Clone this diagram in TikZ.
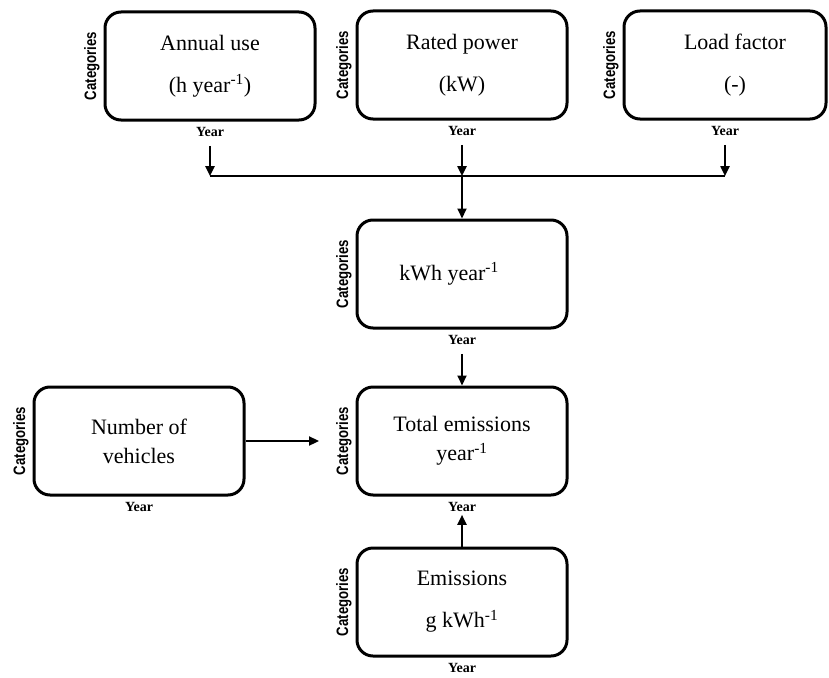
\documentclass[tikz,border=0pt]{standalone}
\usepackage{fontspec}
\setmainfont{Liberation Serif}
\newfontfamily\catfont[FakeStretch=0.8]{Liberation Sans}
\usetikzlibrary{positioning}
\usetikzlibrary{arrows.meta}

\begin{document}
\begin{tikzpicture}
[x=1pt,y=-1pt,>={Stealth[length=10pt,width=9pt,inset=0pt]},line width=2pt,%
  box/.style={draw,line width=3pt,rounded corners=16pt,minimum width=210pt,
    minimum height=108pt,align=center,font=\fontsize{22}{26}\selectfont},
  cat/.style={rotate=90,anchor=south,inner sep=3pt,
    font=\catfont\bfseries\fontsize{16.5}{16.5}\selectfont},
  year/.style={inner sep=2pt,below=3pt of #1,font=\bfseries\fontsize{14}{14}\selectfont}]
\useasboundingbox (0,0) rectangle (829,677);
%% boxes
\node[box] (annual) at (210,66) {Annual use\\[16pt](h year\textsuperscript{-1})};
\node[box] (power) at (462,65) {Rated power\\[16pt](kW)};
\node[box,minimum width=202pt] (load) at (725,65)
  {\hspace*{20pt}Load factor\\[16pt]\hspace*{20pt}(-)};
\node[box] (energy) at (462,274) {kWh year\textsuperscript{-1}\hspace*{26pt}};
\node[box] (total) at (462,441) {Total emissions\\[3pt]year\textsuperscript{-1}};
\node[box] (vehicles) at (139,441) {Number of\\[3pt]vehicles};
\node[box] (emis) at (462,602) {Emissions\\[16pt]g kWh\textsuperscript{-1}};
%% axis labels
\foreach \b in {annual,power,load,energy,total,vehicles,emis}{
  \node[cat] (\b cat) at (\b.west) {Categories};
  \node[year=\b] (\b year) {Year};
}
%% arrows
\coordinate (join) at ([yshift=-45pt]poweryear.center);
\draw (annualyear |- join) -- (loadyear |- join);
\draw[->,shorten <=6pt] (annualyear) -- (annualyear |- join);
\draw[->,shorten <=6pt] (poweryear) -- (join);
\draw[->,shorten <=6pt] (loadyear) -- (loadyear |- join);
\draw[->] (join) -- (join |- energy.north);
\draw[->,shorten <=6pt] (energyyear) -- (energyyear |- total.north);
\draw[->,shorten >=13pt] (vehicles.east) -- (totalcat);
\draw[->] (totalyear |- emis.north) -- (totalyear);
\end{tikzpicture}
\end{document}
